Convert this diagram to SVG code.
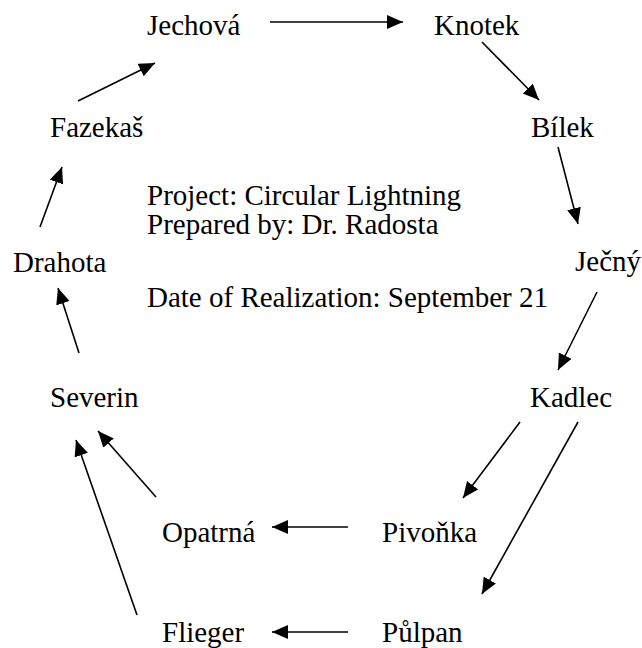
<svg xmlns="http://www.w3.org/2000/svg" width="642" height="648" viewBox="0 0 642 648">
<style>
text{font-family:'Liberation Serif','Times New Roman',serif;font-size:29px;fill:#000}
.c line{stroke:#000;stroke-width:1.6;marker-end:url(#ah)}
</style>
<defs>
<marker id="ah" markerUnits="userSpaceOnUse" markerWidth="17" markerHeight="15" refX="16" refY="7" orient="auto" viewBox="0 0 17 15">
<path d="M0,0 L16,7 L0,14 z" fill="#000"/>
</marker>
</defs>
<rect width="642" height="648" fill="#fff"/>
<g id="jechova"><text x="147" y="35">Jechová</text></g>
<g id="knotek"><text x="434" y="35">Knotek</text></g>
<g id="fazekas"><text x="50" y="137">Fazekaš</text></g>
<g id="bilek"><text x="531" y="137">Bílek</text></g>
<g id="drahota"><text x="13" y="272">Drahota</text></g>
<g id="jecny"><text x="575" y="271">Ječný</text></g>
<g id="severin"><text x="50" y="407">Severin</text></g>
<g id="kadlec"><text x="530" y="407">Kadlec</text></g>
<g id="opatrna"><text x="162" y="542">Opatrná</text></g>
<g id="pivonka"><text x="382" y="542">Pivoňka</text></g>
<g id="flieger"><text x="162" y="642">Flieger</text></g>
<g id="pulpan"><text x="382" y="642">Půlpan</text></g>
<g id="info">
<text x="147" y="205">Project: Circular Lightning</text>
<text x="147" y="234">Prepared by: Dr. Radosta</text>
<text x="147" y="307">Date of Realization: September 21</text>
</g>
<g class="c" id="connectors">
<line x1="270" y1="22" x2="403" y2="22"/>
<line x1="482" y1="42" x2="539" y2="100"/>
<line x1="558" y1="147" x2="578" y2="224"/>
<line x1="597" y1="292" x2="558" y2="370"/>
<line x1="520" y1="422" x2="463" y2="498"/>
<line x1="578" y1="422" x2="482" y2="594"/>
<line x1="348" y1="527" x2="272" y2="527"/>
<line x1="348" y1="632" x2="272" y2="632"/>
<line x1="156" y1="497" x2="98" y2="431"/>
<line x1="137" y1="615" x2="76" y2="440"/>
<line x1="79" y1="353" x2="58" y2="288"/>
<line x1="40" y1="227" x2="62" y2="167"/>
<line x1="78" y1="101" x2="155" y2="63"/>
</g>
</svg>
